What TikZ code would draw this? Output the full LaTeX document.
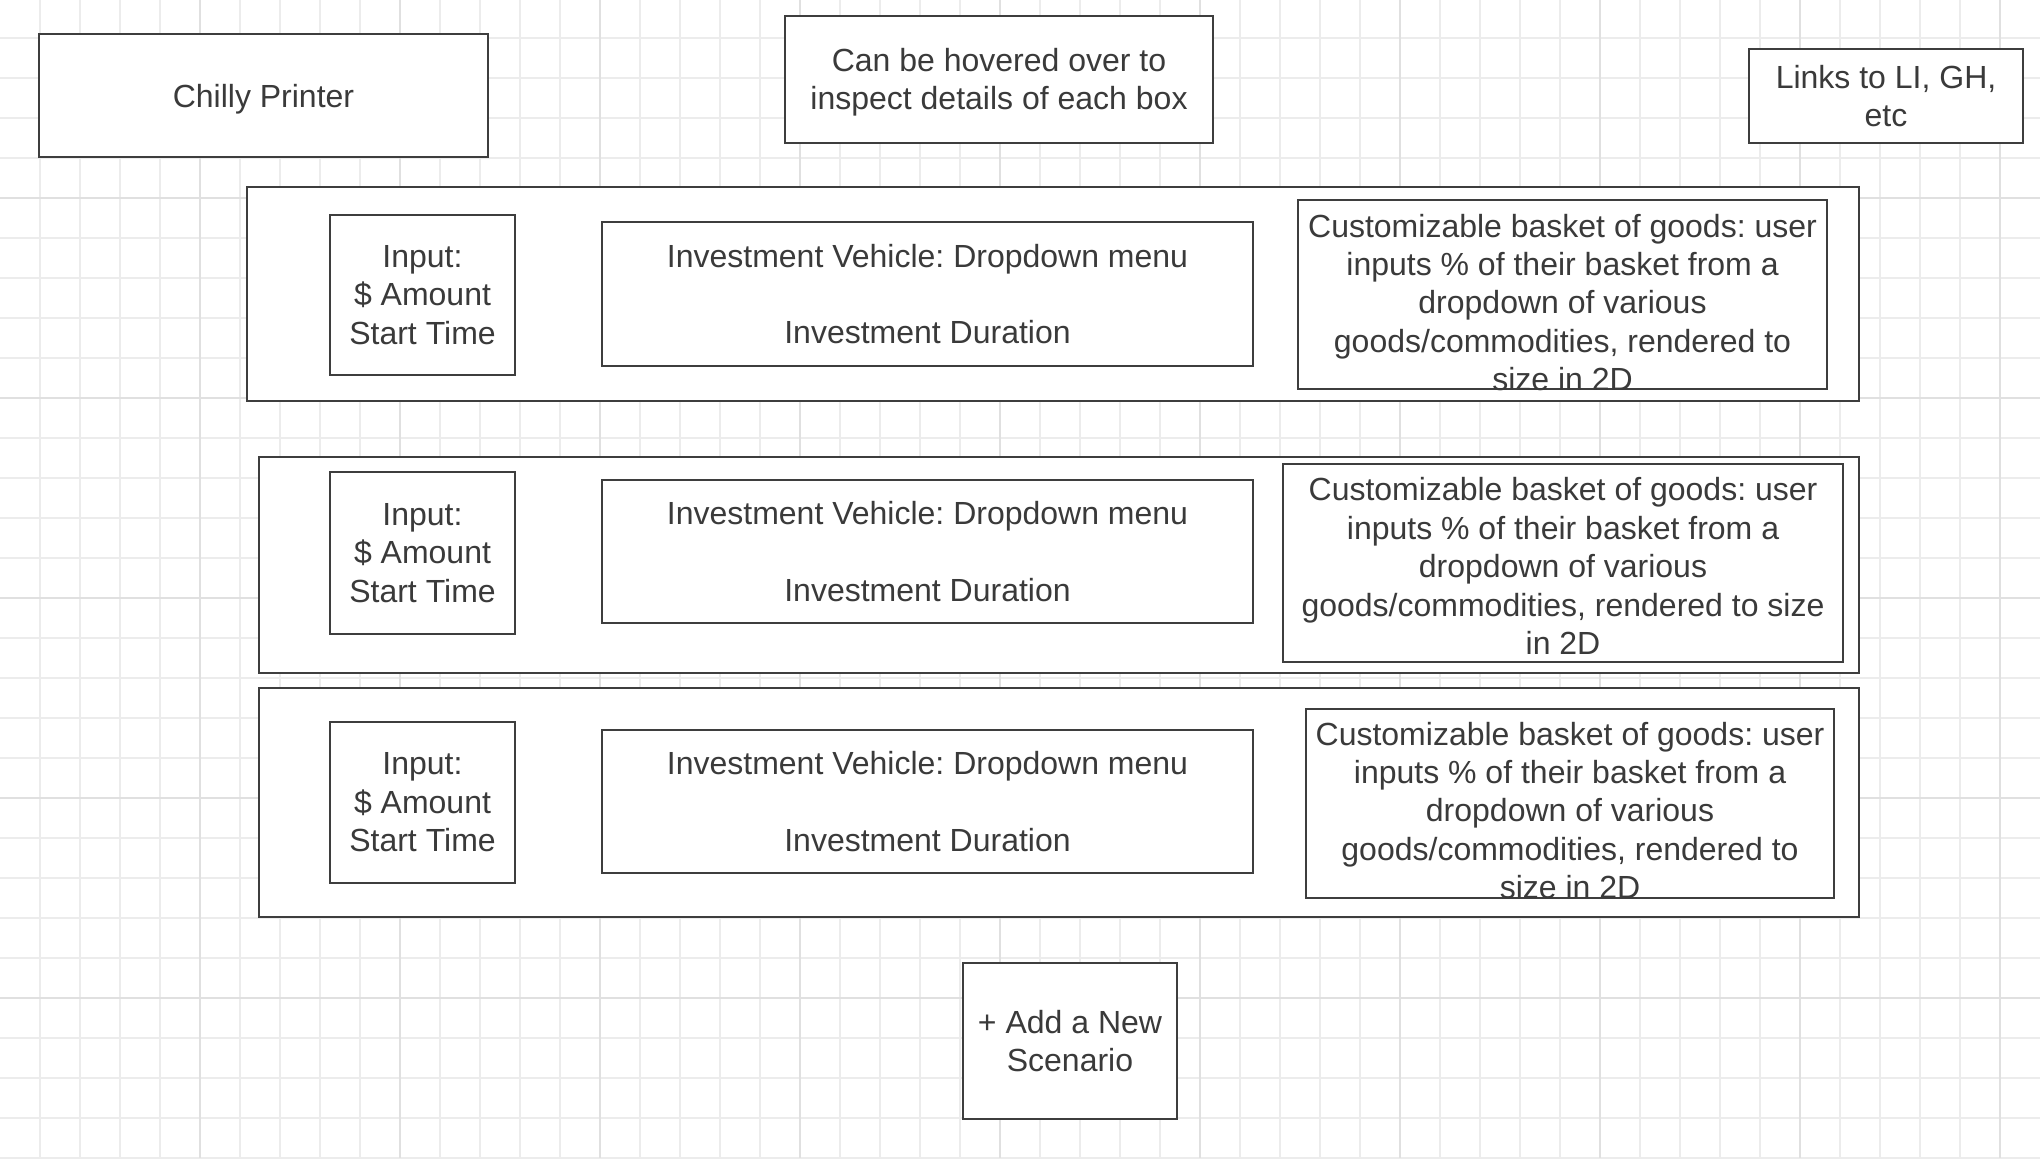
\documentclass[tikz,border=0pt]{standalone}
\usepackage{fontspec}
\setmainfont{Liberation Sans}
\frenchspacing
\usetikzlibrary{fit}
\definecolor{ink}{HTML}{3E3E3E}
\definecolor{txtc}{HTML}{3A3A3A}
\definecolor{gridminor}{HTML}{ECECEC}
\definecolor{gridmajor}{HTML}{E0E0E0}
\tikzset{
  box/.style={draw=ink, line width=0.8pt, fill=white, inner sep=0pt, outer sep=0pt},
  txt/.style={text=txtc, align=center, inner sep=0pt, font=\fontsize{16}{19.2}\selectfont\frenchspacing},
  gminor/.style={draw=gridminor, line width=0.65pt},
  gmajor/.style={draw=gridmajor, line width=0.65pt}
}
\begin{document}
\begin{tikzpicture}[x=0.5pt, y=-0.5pt]
\path[use as bounding box, fill=white] (0,0) rectangle (2040,1158);
% grid
\foreach \gx in {40,80,...,2000} \draw[gminor] (\gx,0) -- (\gx,1158);
\foreach \gy in {38,78,...,1158} \draw[gminor] (0,\gy) -- (2040,\gy);
\foreach \gx in {200,400,...,2000} \draw[gmajor] (\gx,0) -- (\gx,1158);
\foreach \gy in {198,398,598,798,998} \draw[gmajor] (0,\gy) -- (2040,\gy);

% header boxes
\node[box, fit={(39,34) (488,157)}] (chilly) {};
\node[txt] (chillyT) at ([yshift=-2pt]chilly.center) {Chilly Printer};
\node[box, fit={(785,16) (1213,143)}] (hover) {};
\node[txt] (hoverT) at ([yshift=-1.5pt]hover.center) {Can be hovered over to\\inspect details of each box};
\node[box, fit={(1749,49) (2023,143)}] (links) {};
\node[txt] (linksT) at (links.center) {Links to LI, GH,\\etc};

% scenario 1
\node[box, fit={(247,187) (1859,401)}] (outerA) {};
\node[box, fit={(330,215) (515,375)}] (inputA) {};
\node[txt] (inputAT) at (inputA.center) {Input:\\\$ Amount\\Start Time};
\node[box, fit={(602,222) (1253,366)}] (investA) {};
\node[txt] (investAT) at (investA.center) {Investment Vehicle: Dropdown menu\\[19.2pt]Investment Duration};
\node[box, fit={(1298,200) (1827,389)}] (basketA) {};
\node[txt] (basketAT) at ([yshift=-4pt]basketA.center) {Customizable basket of goods: user\\inputs \% of their basket from a\\dropdown of various\\goods/commodities, rendered to\\size in 2D};

% scenario 2
\node[box, fit={(259,457) (1859,673)}] (outerB) {};
\node[box, fit={(330,472) (515,634)}] (inputB) {};
\node[txt] (inputBT) at (inputB.center) {Input:\\\$ Amount\\Start Time};
\node[box, fit={(602,480) (1253,623)}] (investB) {};
\node[txt] (investBT) at (investB.center) {Investment Vehicle: Dropdown menu\\[19.2pt]Investment Duration};
\node[box, fit={(1283,464) (1843,662)}] (basketB) {};
\node[txt] (basketBT) at ([yshift=-1.5pt]basketB.center) {Customizable basket of goods: user\\inputs \% of their basket from a\\dropdown of various\\goods/commodities, rendered to size\\in 2D};

% scenario 3
\node[box, fit={(259,688) (1859,917)}] (outerC) {};
\node[box, fit={(330,722) (515,883)}] (inputC) {};
\node[txt] (inputCT) at (inputC.center) {Input:\\\$ Amount\\Start Time};
\node[box, fit={(602,730) (1253,873)}] (investC) {};
\node[txt] (investCT) at (investC.center) {Investment Vehicle: Dropdown menu\\[19.2pt]Investment Duration};
\node[box, fit={(1306,709) (1834,898)}] (basketC) {};
\node[txt] (basketCT) at ([yshift=-3.5pt]basketC.center) {Customizable basket of goods: user\\inputs \% of their basket from a\\dropdown of various\\goods/commodities, rendered to\\size in 2D};

% add scenario
\node[box, fit={(963,963) (1177,1119)}] (addnew) {};
\node[txt] (addnewT) at (addnew.center) {+ Add a New\\Scenario};
\end{tikzpicture}
\end{document}
